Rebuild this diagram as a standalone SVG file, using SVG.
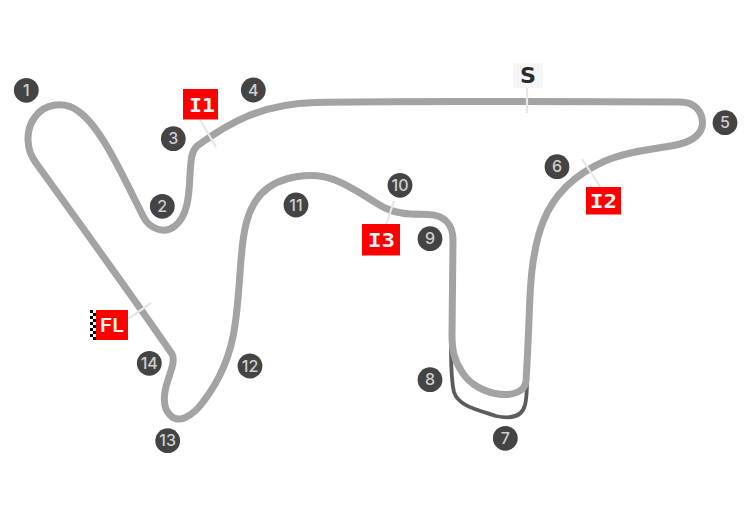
<svg xmlns="http://www.w3.org/2000/svg" width="752" height="512" viewBox="0 0 752 512">
<style>
.track{fill:none;stroke:#a3a3a3;stroke-width:7;stroke-linejoin:round}
.pit{fill:none;stroke:#5c5c5c;stroke-width:3.8}
.tick{stroke:#e6e6e6;stroke-width:2.2;fill:none}
.dot{fill:#444}
.num{font-family:"Inter","Liberation Sans",sans-serif;font-size:16px;font-weight:500;fill:#cfcfcf;text-anchor:middle}
.flag{fill:#f00}
.sec{font-family:"DejaVu Sans Mono","Liberation Mono",monospace;font-size:19px;font-weight:700;fill:#f4f4f4;text-anchor:middle}
</style>
<defs>
<pattern id="chk" width="6" height="6" patternUnits="userSpaceOnUse" x="90" y="310">
<rect width="6" height="6" fill="#fff"/><rect width="3" height="3" fill="#000"/><rect x="3" y="3" width="3" height="3" fill="#000"/>
</pattern>
</defs>
<g id="connectors">
<path class="pit" d="M451 345 C451 365 451 380 454 392 C458 406 478 410 496 416 C510 419 522 417 525 405 C527 397 527 390 527 380"/>
<path id="track" class="track" d="M527 101.5 C580 101.5 630 101.5 680 102 C695 102 702.5 112 702.5 123 C702.5 134 692 141 680 144 C660 149 630 150 605 161 C580 172 555 191 543 222 C531 253 530 290 529 320 C528 345 527 365 526 381 C525 392 512 396 498 394 C485 392 470 385 462 372 C454 360 452 350 452 335 L453 240 C453 225 445 215 428 214.5 C412 214 400 215 385 208 C370 200 355 188 335 180 C315 172 280 174 261 194 C246 210 243 235 241 260 C239 285 238 305 235 325 C231 355 220 380 203 402 C192 417 178 424 170 415 C162 407 164 392 168 380 C172 368 175 360 172 354 C150 322 70 210 36 163 C26 150 25 130 35 117 C45 103 65 101 78 111 C100 126 120 170 143 216 C150 230 165 234 175 226 C188 216 189 195 190 175 C191 160 191 152 197 146 C230 122 262 104 315 102.5 C380 101 450 101.5 527 101.5"/>
</g>
<g id="ticks">
<line class="tick" x1="527" y1="85" x2="527" y2="113"/>
<line class="tick" x1="199" y1="118" x2="216" y2="147"/>
<line class="tick" x1="582" y1="159" x2="601" y2="188"/>
<line class="tick" x1="394" y1="201" x2="386" y2="225"/>
<line class="tick" x1="128" y1="319" x2="151" y2="303"/>
</g>
<g id="turn-1"><circle class="dot" cx="26.3" cy="90.3" r="12.4"/><text class="num" x="26.3" y="96">1</text></g>
<g id="turn-2"><circle class="dot" cx="162.3" cy="206.3" r="12.4"/><text class="num" x="162.3" y="212">2</text></g>
<g id="turn-3"><circle class="dot" cx="173.3" cy="138.7" r="12.4"/><text class="num" x="173.3" y="144.4">3</text></g>
<g id="turn-4"><circle class="dot" cx="253.3" cy="90" r="12.4"/><text class="num" x="253.3" y="95.7">4</text></g>
<g id="turn-5"><circle class="dot" cx="725" cy="122.7" r="12.4"/><text class="num" x="725" y="128.4">5</text></g>
<g id="turn-6"><circle class="dot" cx="557" cy="166.7" r="12.4"/><text class="num" x="557" y="172.4">6</text></g>
<g id="turn-7"><circle class="dot" cx="505.3" cy="438.3" r="12.4"/><text class="num" x="505.3" y="444">7</text></g>
<g id="turn-8"><circle class="dot" cx="430" cy="379.7" r="12.4"/><text class="num" x="430" y="385.4">8</text></g>
<g id="turn-9"><circle class="dot" cx="430" cy="238.7" r="12.4"/><text class="num" x="430" y="244.4">9</text></g>
<g id="turn-10"><circle class="dot" cx="400" cy="185.3" r="12.4"/><text class="num" x="400" y="191">10</text></g>
<g id="turn-11"><circle class="dot" cx="296" cy="205" r="12.4"/><text class="num" x="296" y="210.7">11</text></g>
<g id="turn-12"><circle class="dot" cx="250" cy="366" r="12.4"/><text class="num" x="250" y="371.7">12</text></g>
<g id="turn-13"><circle class="dot" cx="167.7" cy="440.7" r="12.4"/><text class="num" x="167.7" y="446.4">13</text></g>
<g id="turn-14"><circle class="dot" cx="149.3" cy="363.3" r="12.4"/><text class="num" x="149.3" y="369">14</text></g>
<g id="sector-s"><rect x="513" y="63" width="30" height="25" fill="#f6f6f6"/><text x="528" y="83" font-family="DejaVu Sans,sans-serif" font-size="22" font-weight="700" fill="#2b2b2b" text-anchor="middle" textLength="16" lengthAdjust="spacingAndGlyphs">S</text></g>
<g id="sector-i1"><rect class="flag" x="183" y="89" width="35" height="30.5"/><text class="sec" x="202" y="112" textLength="26" lengthAdjust="spacingAndGlyphs">I1</text></g>
<g id="sector-i2"><rect class="flag" x="586" y="187" width="35" height="27.5"/><text class="sec" x="603.5" y="208" textLength="27" lengthAdjust="spacingAndGlyphs">I2</text></g>
<g id="sector-i3"><rect class="flag" x="362" y="224" width="38" height="31.5"/><text class="sec" x="381.5" y="247" textLength="27" lengthAdjust="spacingAndGlyphs">I3</text></g>
<g id="sector-fl"><rect x="90" y="310" width="6" height="30" fill="url(#chk)"/><rect class="flag" x="96" y="310" width="32" height="30"/><text x="112" y="332" font-family="Inter,Liberation Sans,sans-serif" font-size="19" font-weight="600" fill="#f4f4f4" text-anchor="middle" textLength="24" lengthAdjust="spacingAndGlyphs">FL</text></g>
</svg>
